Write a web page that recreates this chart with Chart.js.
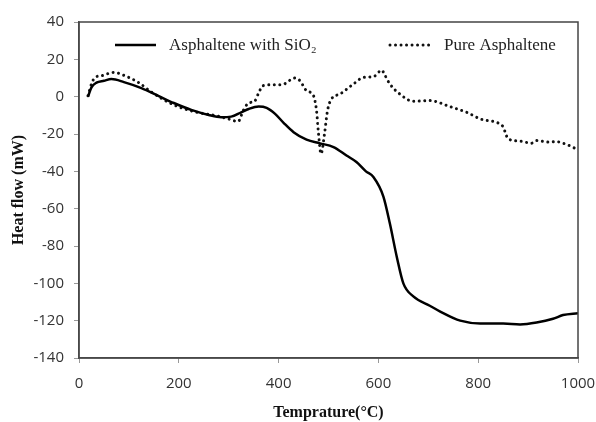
<!DOCTYPE html>
<html>
<head>
<meta charset="utf-8">
<script src="https://cdn.jsdelivr.net/npm/chart.js@4"></script>
<style>
  body { margin: 0; background: #fff; }
</style>
</head>
<body>
<canvas id="myChart" width="596" height="422"></canvas>
<script>
'use strict';

// data
let silicaTemp = [18, 25, 35, 50, 65, 90, 125, 160, 190, 225, 260, 285, 305, 325, 340, 360, 376, 393, 410, 430, 456, 483, 510, 536, 556, 575, 590, 610, 623, 637, 650, 670, 703, 723, 764, 804, 850, 884, 917, 950, 970, 1000];
let silicaFlow = [0, 5, 7.5, 8.5, 9.4, 7.8, 4.6, 0.3, -3.4, -7.1, -9.8, -11, -10.7, -8.4, -6.6, -5.3, -6, -9.2, -14, -19, -23, -25, -27, -31.5, -35, -40, -43, -53.5, -68, -86, -100, -107, -112, -115, -120, -121.5, -121.5, -122, -121, -119, -117, -116];

let pureTemp = [18, 25, 32, 45, 69, 92, 119, 146, 186, 212, 246, 273, 299, 319, 329, 339, 353, 359, 369, 393, 406, 433, 443, 456, 470, 476, 480, 485, 492, 498, 506, 523, 550, 570, 590, 607, 612, 623, 643, 670, 703, 743, 777, 810, 850, 854, 860, 884, 907, 917, 944, 954, 977, 1000];
let pureFlow = [0.5, 6.8, 10.3, 11.2, 13, 11.2, 7.6, 2.3, -3.9, -6.6, -8.9, -10.1, -11.9, -13.3, -7.5, -3.6, -2.1, 1.4, 5.9, 6.4, 6.4, 10, 8.5, 3.2, 0.5, -7.5, -19.9, -30.6, -19.9, -7.5, -1.2, 1.4, 6.8, 10.3, 10.7, 14.2, 12, 6.8, 1.4, -2.5, -2.1, -5.3, -8.4, -12.4, -16, -19, -22.6, -23.8, -24.9, -23.5, -24.4, -24, -25.6, -28.4];

let seriesNames = ['Asphaltene with SiO\u2082', 'Pure Asphaltene'];
let xTicks = [0, 200, 400, 600, 800, 1000];
let yTicks = [-140, -120, -100, -80, -60, -40, -20, 0, 20, 40];

function toPoints(xs, ys) {
    let pts = [];
    for (let i = 0; i < xs.length; i++) {
        pts.push({ x: xs[i], y: ys[i] });
    }
    return pts;
}

// box round the plot + legend inside it
let framePlugin = {
    id: 'frame',
    afterDraw(chart) {
        let ctx = chart.ctx;
        let a = chart.chartArea;
        ctx.save();
        ctx.strokeStyle = '#444';
        ctx.lineWidth = 1.5;
        ctx.strokeRect(a.left, a.top, a.right - a.left, a.bottom - a.top);

        let spots = [{ x: 115, y: 45 }, { x: 390, y: 45 }];
        chart.data.datasets.forEach((ds, i) => {
            let s = spots[i];
            ctx.beginPath();
            ctx.setLineDash(ds.borderDash || []);
            ctx.lineCap = ds.borderCapStyle || 'butt';
            ctx.lineWidth = ds.borderWidth;
            ctx.strokeStyle = ds.borderColor;
            ctx.moveTo(s.x, s.y);
            ctx.lineTo(s.x + 41, s.y);
            ctx.stroke();
            ctx.setLineDash([]);
            ctx.fillStyle = '#222';
            ctx.font = '17px "Liberation Serif", "Times New Roman", serif';
            ctx.textBaseline = 'middle';
            ctx.fillText(ds.label, s.x + 54, s.y + 1);
        });
        ctx.restore();
    }
};

let ctx = document.getElementById('myChart').getContext('2d');
let myChart = new Chart(ctx, {
    type: 'line',
    data: {
        datasets: [{
            label: seriesNames[0],
            data: toPoints(silicaTemp, silicaFlow),
            borderColor: '#000',
            borderWidth: 2.5,
            pointRadius: 0,
            cubicInterpolationMode: 'monotone'
        }, {
            label: seriesNames[1],
            data: toPoints(pureTemp, pureFlow),
            borderColor: '#111',
            borderWidth: 3,
            borderDash: [0.01, 5.5],
            borderCapStyle: 'round',
            pointRadius: 0,
            cubicInterpolationMode: 'monotone'
        }]
    },
    options: {
        responsive: false,
        devicePixelRatio: 1,
        animation: false,
        layout: { padding: { top: 22, right: 18, left: 0, bottom: 0 } },
        plugins: {
            legend: { display: false },
            tooltip: { enabled: false }
        },
        scales: {
            x: {
                type: 'linear',
                min: 0,
                max: 1000,
                afterBuildTicks: (scale) => { scale.ticks = xTicks.map(v => ({ value: v })); },
                afterFit: (scale) => {
                    scale.height = 64;
                    scale.paddingLeft = 0;
                    scale.paddingRight = 0;
                },
                ticks: {
                    color: '#333',
                    font: { family: '"Open Sans", sans-serif', size: 15 },
                    padding: 12,
                    maxRotation: 0,
                    callback: (v) => String(v)
                },
                grid: { drawOnChartArea: false, tickLength: 5, color: '#999' },
                border: { color: '#555', width: 1.5 },
                title: {
                    display: true,
                    text: 'Temprature(\u00B0C)',
                    color: '#111',
                    font: { family: '"Liberation Serif", "Times New Roman", serif', size: 16, weight: 'bold' },
                    padding: { top: 3, bottom: 0 }
                }
            },
            y: {
                min: -140,
                max: 40,
                afterBuildTicks: (scale) => { scale.ticks = yTicks.map(v => ({ value: v })); },
                afterFit: (scale) => {
                    scale.width = 79;
                    scale.paddingTop = 0;
                    scale.paddingBottom = 0;
                },
                ticks: {
                    color: '#333',
                    font: { family: '"Open Sans", sans-serif', size: 15 },
                    padding: 10,
                    callback: (v) => String(v)
                },
                grid: { drawOnChartArea: false, tickLength: 5, color: '#999' },
                border: { color: '#555', width: 1.5 },
                title: {
                    display: true,
                    text: 'Heat flow (mW)',
                    color: '#111',
                    font: { family: '"Liberation Serif", "Times New Roman", serif', size: 16, weight: 'bold' },
                    padding: { top: 9, bottom: 0 }
                }
            }
        }
    },
    plugins: [framePlugin]
});
</script>
</body>
</html>
